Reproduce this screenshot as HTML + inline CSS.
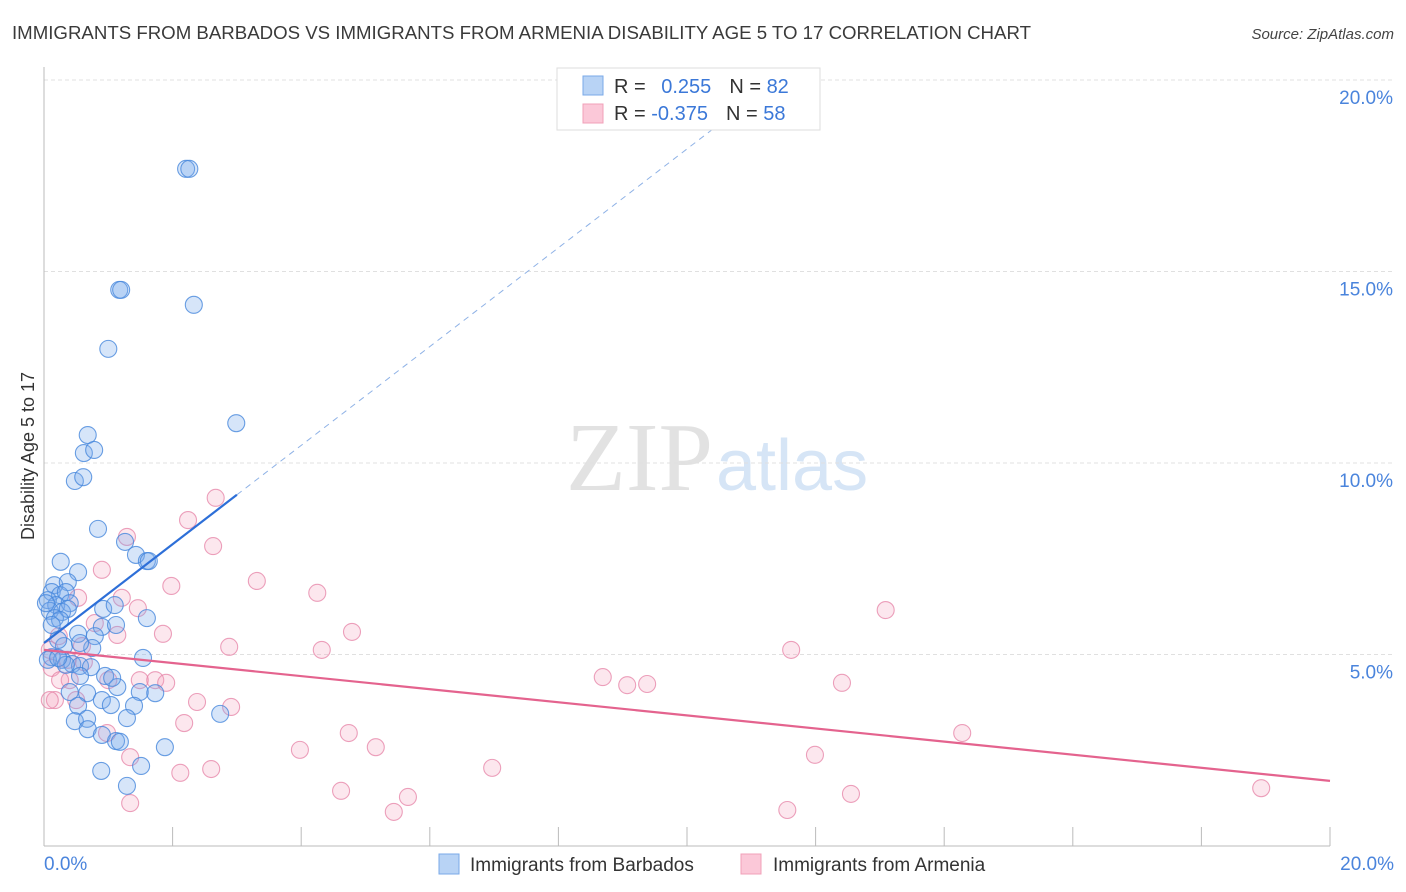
<!DOCTYPE html>
<html><head><meta charset="utf-8">
<style>
body{margin:0;background:#fff;font-family:"Liberation Sans",sans-serif;}
svg{display:block}
</style></head>
<body>
<svg id="chart" width="1406" height="892">
<text x="12" y="39" font-size="18" fill="#3a3a3a" textLength="1019" lengthAdjust="spacingAndGlyphs">IMMIGRANTS FROM BARBADOS VS IMMIGRANTS FROM ARMENIA DISABILITY AGE 5 TO 17 CORRELATION CHART</text>
<text x="1394" y="39" font-size="15" font-style="italic" fill="#444" text-anchor="end">Source: ZipAtlas.com</text>
<text x="34" y="456" font-size="18" fill="#333" text-anchor="middle" transform="rotate(-90 34 456)">Disability Age 5 to 17</text>
<text x="713" y="490" font-size="98" font-family="Liberation Serif,serif" fill="#e2e2e2" text-anchor="end">ZIP</text>
<text x="716" y="490" font-size="72" fill="#d6e5f6">atlas</text>
<g id="grid"></g>
<g id="axes"></g>
<g id="pinkpts"></g>
<g id="bluepts"></g>
<g id="trends"></g>
<g>
<rect x="557" y="68" width="263" height="62" fill="#fff" stroke="#ddd"/>
<rect x="583" y="76" width="20" height="19" fill="#b8d3f5" stroke="#7aaae8"/>
<rect x="583" y="104" width="20" height="19" fill="#fbc8d8" stroke="#f0a0b8"/>
<text x="614" y="93" font-size="20" fill="#333">R = <tspan fill="#3b78d8" dx="10">0.255</tspan><tspan fill="#333" dx="18">N = </tspan><tspan fill="#3b78d8">82</tspan></text>
<text x="614" y="120" font-size="20" fill="#333">R = <tspan fill="#3b78d8">-0.375</tspan><tspan fill="#333" dx="18">N = </tspan><tspan fill="#3b78d8">58</tspan></text>
</g>
<g>
<rect x="439" y="854" width="20" height="20" fill="#b8d3f5" stroke="#7aaae8"/>
<text x="470" y="871" font-size="19" fill="#333">Immigrants from Barbados</text>
<rect x="741" y="854" width="20" height="20" fill="#fbc8d8" stroke="#f0a0b8"/>
<text x="773" y="871" font-size="19" fill="#333">Immigrants from Armenia</text>
</g>
</svg>
<script>
const blueX=[2.21,2.26,1.17,1.20,2.33,1.00,2.99,0.68,0.62,0.78,0.48,0.61,0.84,1.26,1.43,1.60,1.63,0.26,0.53,0.16,0.37,0.12,0.25,0.34,0.06,0.19,0.40,0.09,0.28,0.17,0.37,0.92,1.10,1.60,0.90,1.12,0.53,0.79,0.75,0.31,0.12,1.54,0.28,0.44,0.56,0.73,0.56,0.95,1.14,0.40,0.67,1.49,1.73,0.90,1.04,1.40,0.53,2.74,1.29,0.48,0.67,0.68,0.90,1.12,1.18,1.88,0.89,1.51,1.29,0.25,0.03,0.12,0.22,0.06,0.56,0.34,1.06,0.22];
const blueY=[17.68,17.68,14.52,14.52,14.13,12.98,11.04,10.73,10.26,10.34,9.53,9.63,8.28,7.94,7.60,7.44,7.44,7.42,7.15,6.81,6.89,6.63,6.55,6.63,6.42,6.29,6.34,6.14,6.11,5.95,6.19,6.19,6.29,5.95,5.72,5.77,5.54,5.48,5.17,5.22,4.93,4.91,4.86,4.75,4.70,4.67,4.44,4.44,4.15,4.02,3.99,4.02,3.99,3.81,3.68,3.66,3.66,3.45,3.34,3.26,3.32,3.05,2.90,2.74,2.72,2.58,1.96,2.09,1.57,5.90,6.34,5.77,5.38,4.86,5.30,4.73,4.39,4.91];
const pinkX=[2.67,2.24,1.29,2.63,0.90,1.98,3.31,4.25,0.53,1.21,1.46,0.79,1.14,1.85,4.79,2.88,4.32,11.62,13.09,0.09,0.23,0.37,0.62,0.12,0.40,0.25,1.00,1.49,1.73,1.90,8.69,9.07,9.38,12.41,2.38,2.91,2.18,0.98,4.74,5.16,3.98,14.28,1.34,11.99,6.97,2.12,2.60,4.62,5.66,12.55,18.93,1.34,5.44,11.56,0.59,0.17,0.50,0.09];
const pinkY=[9.09,8.51,8.07,7.83,7.21,6.79,6.92,6.61,6.48,6.48,6.21,5.82,5.51,5.54,5.59,5.20,5.12,5.12,6.16,5.12,5.48,4.86,4.80,4.65,4.33,4.33,4.33,4.33,4.33,4.26,4.41,4.20,4.23,4.26,3.76,3.63,3.21,2.95,2.95,2.58,2.51,2.95,2.32,2.38,2.04,1.91,2.01,1.44,1.28,1.36,1.51,1.12,0.89,0.94,5.22,3.81,3.81,3.81];
const yTicks=[5,10,15,20];
const yTickLabels=["5.0%","10.0%","15.0%","20.0%"];
const xTicks=[0,2,4,6,8,10,12,14,16,18,20];
const blueTrend=[5.3,1.29];
const pinkTrend=[5.12,-0.171];
const NS="http://www.w3.org/2000/svg";
const X0=44,X1=1330,Y0=846,Y1=80;
const sx=v=>X0+v/20*(X1-X0);
const sy=v=>Y0-v/20*(Y0-Y1);
function mk(t,a,p){const e=document.createElementNS(NS,t);for(const k in a)e.setAttribute(k,a[k]);p.appendChild(e);return e;}
const grid=document.getElementById('grid'),axes=document.getElementById('axes');
yTicks.forEach((v,i)=>{
 const l=mk('line',{x1:X0,x2:1394,y1:sy(v),y2:sy(v),stroke:'#e0e0e0','stroke-dasharray':'4,3'},grid);
 
 
 const t=mk('text',{x:1393,y:sy(v)+24,'font-size':19,fill:'#4a84dc','text-anchor':'end'},axes);
 t.textContent=yTickLabels[i];
 
 
});
const ya=mk('line',{x1:X0,x2:X0,y1:67,y2:Y0,stroke:'#bbb'},axes);


const xa=mk('line',{x1:X0,x2:X1,y1:Y0,y2:Y0,stroke:'#bbb'},axes);


xTicks.forEach(v=>{
 const l=mk('line',{x1:sx(v),x2:sx(v),y1:827,y2:Y0,stroke:'#bbb'},axes);
 
 
});
const t0=mk('text',{x:44,y:870,'font-size':19,fill:'#4a84dc'},axes);t0.textContent="0.0%";


const t1=mk('text',{x:1394,y:870,'font-size':19,fill:'#4a84dc','text-anchor':'end'},axes);t1.textContent="20.0%";


function pts(xs,ys,g,fill,stroke,name){xs.forEach((x,i)=>{
 const c=mk('circle',{cx:sx(x),cy:sy(ys[i]),r:8.5,fill:fill,stroke:stroke,'stroke-width':1.1},g);
 
 
});}
pts(pinkX,pinkY,document.getElementById('pinkpts'),'rgba(244,160,188,0.25)','rgba(230,130,165,0.75)','armenia-point');
pts(blueX,blueY,document.getElementById('bluepts'),'rgba(120,170,235,0.3)','rgba(70,135,220,0.8)','barbados-point');
const tr=document.getElementById('trends');
const bl=mk('line',{x1:sx(0),y1:sy(blueTrend[0]),x2:sx(3),y2:sy(blueTrend[0]+3*blueTrend[1]),stroke:'#2d6fd8','stroke-width':2.2},tr);


const xe=(20-blueTrend[0])/blueTrend[1];
const bd=mk('line',{x1:sx(3),y1:sy(blueTrend[0]+3*blueTrend[1]),x2:sx(xe),y2:sy(20),stroke:'#8fb2e6','stroke-width':1,'stroke-dasharray':'6,5'},tr);


const pl=mk('line',{x1:sx(0),y1:sy(pinkTrend[0]),x2:sx(20),y2:sy(pinkTrend[0]+20*pinkTrend[1]),stroke:'#e4638e','stroke-width':2.2},tr);


</script>
</body></html>
